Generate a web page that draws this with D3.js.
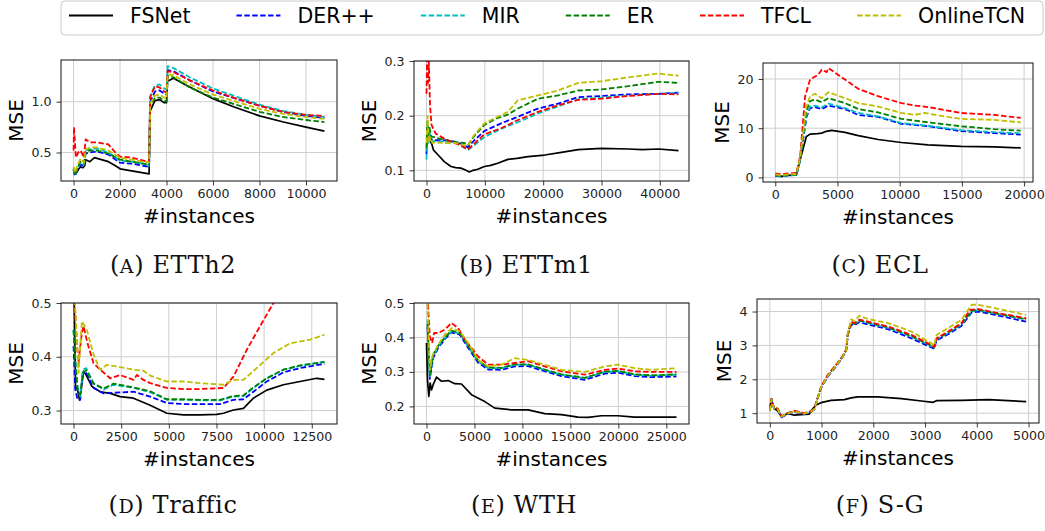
<!DOCTYPE html>
<html>
<head>
<meta charset="utf-8">
<script src="https://cdn.jsdelivr.net/npm/d3@7"></script>
<style>
  body { margin: 0; background: #fff; }
  svg { display: block; font-family: "DejaVu Sans", sans-serif; }
</style>
</head>
<body>
<svg id="chart" width="1045" height="531"></svg>
<script>
// methods, in legend / draw order
const methods = ["FSNet", "DER++", "MIR", "ER", "TFCL", "OnlineTCN"];
const colors = ["#000000", "#0000ff", "#00bfbf", "#008000", "#ff0000", "#bfbf00"];

// (A) ETTh2  -- [instances, MSE]
const etth2 = {
  "FSNet": [[0,0.33],[100,0.29],[200,0.33],[300,0.36],[400,0.35],[480,0.37],[520,0.43],[700,0.41],[900,0.45],[1200,0.43],[1500,0.41],[1800,0.37],[2000,0.34],[2500,0.32],[3000,0.30],[3250,0.29],[3280,0.90],[3500,1.01],[3700,1.02],[3900,0.99],[4000,0.99],[4040,1.20],[4300,1.23],[4870,1.16],[6000,1.03],[6880,0.95],[8000,0.86],[9030,0.80],[10000,0.75],[10793,0.71]],
  "DER++": [[0,0.33],[60,0.27],[150,0.32],[300,0.38],[450,0.37],[520,0.49],[700,0.50],[1000,0.51],[1500,0.48],[2000,0.40],[2500,0.39],[3000,0.37],[3250,0.36],[3300,1.00],[3500,1.10],[3700,1.11],[3900,1.08],[4000,1.07],[4050,1.31],[4300,1.30],[5000,1.21],[6000,1.10],[7000,1.03],[8000,0.96],[9000,0.90],[10000,0.86],[10793,0.84]],
  "MIR": [[0,0.35],[60,0.28],[150,0.33],[300,0.40],[450,0.38],[520,0.52],[700,0.53],[1000,0.54],[1500,0.50],[2000,0.42],[2500,0.41],[3000,0.39],[3250,0.37],[3300,1.05],[3500,1.16],[3700,1.17],[3900,1.13],[4000,1.12],[4050,1.35],[4300,1.33],[5000,1.24],[6000,1.13],[7000,1.05],[8000,0.97],[9000,0.91],[10000,0.87],[10793,0.85]],
  "ER": [[0,0.34],[60,0.28],[150,0.34],[300,0.41],[450,0.39],[520,0.51],[700,0.52],[1000,0.52],[1500,0.49],[2000,0.43],[2500,0.41],[3000,0.39],[3250,0.38],[3300,0.97],[3500,1.04],[3700,1.04],[3900,1.01],[4000,1.00],[4050,1.25],[4300,1.24],[5000,1.14],[6000,1.04],[7000,0.97],[8000,0.90],[9000,0.85],[10000,0.82],[10793,0.80]],
  "TFCL": [[0,0.52],[20,0.75],[60,0.60],[100,0.45],[200,0.50],[300,0.52],[450,0.45],[520,0.63],[700,0.60],[1000,0.60],[1500,0.58],[1800,0.50],[2000,0.46],[2500,0.45],[3000,0.42],[3250,0.41],[3300,1.05],[3500,1.15],[3700,1.14],[3900,1.10],[4000,1.09],[4050,1.30],[4300,1.29],[5000,1.21],[6000,1.11],[7000,1.03],[8000,0.96],[9000,0.90],[10000,0.87],[10793,0.86]],
  "OnlineTCN": [[0,0.36],[60,0.30],[150,0.36],[300,0.44],[450,0.40],[520,0.53],[700,0.55],[1000,0.55],[1500,0.52],[2000,0.45],[2500,0.43],[3000,0.41],[3250,0.40],[3300,0.98],[3500,1.06],[3700,1.07],[3900,1.04],[4000,1.03],[4050,1.27],[4300,1.26],[5000,1.17],[6000,1.07],[7000,1.00],[8000,0.93],[9000,0.88],[10000,0.85],[10793,0.83]]
};

// (B) ETTm1
const ettm1 = {
  "FSNet": [[600,0.155],[900,0.148],[1200,0.137],[2000,0.128],[3040,0.116],[4190,0.107],[5000,0.105],[5900,0.104],[6600,0.101],[7350,0.097],[8000,0.100],[8780,0.102],[9930,0.107],[11000,0.109],[12200,0.113],[13950,0.120],[15500,0.122],[17400,0.125],[20260,0.128],[23130,0.133],[26000,0.138],[30000,0.140],[34600,0.139],[37000,0.138],[39770,0.139],[43200,0.136]],
  "DER++": [[0,0.13],[150,0.18],[300,0.155],[500,0.165],[800,0.157],[1500,0.155],[3040,0.155],[5000,0.152],[6500,0.146],[7100,0.142],[8200,0.155],[9930,0.172],[12800,0.186],[15660,0.198],[19100,0.213],[22550,0.222],[26000,0.234],[30000,0.236],[34600,0.239],[39770,0.240],[43200,0.242]],
  "MIR": [[0,0.12],[150,0.19],[300,0.15],[500,0.17],[800,0.155],[1500,0.153],[3040,0.153],[5000,0.150],[6500,0.141],[7100,0.137],[8200,0.146],[9930,0.161],[12800,0.176],[15660,0.188],[19100,0.204],[22550,0.217],[26000,0.230],[30000,0.233],[34600,0.237],[39770,0.240],[43200,0.242]],
  "ER": [[0,0.14],[150,0.19],[300,0.16],[500,0.18],[800,0.162],[1500,0.160],[3040,0.156],[5000,0.152],[6500,0.150],[7100,0.146],[8200,0.163],[9930,0.183],[12000,0.195],[13950,0.202],[15660,0.213],[19100,0.231],[22550,0.237],[26000,0.246],[30000,0.248],[34600,0.254],[39770,0.262],[43200,0.260]],
  "TFCL": [[0,0.24],[100,0.31],[250,0.26],[400,0.30],[600,0.22],[860,0.183],[1200,0.175],[1600,0.167],[3040,0.158],[4500,0.151],[5900,0.146],[7060,0.138],[8200,0.149],[9930,0.166],[12800,0.177],[15660,0.192],[19100,0.207],[22550,0.219],[26000,0.229],[30000,0.231],[34600,0.236],[39770,0.240],[43200,0.239]],
  "OnlineTCN": [[0,0.15],[200,0.20],[400,0.15],[700,0.16],[1000,0.150],[1500,0.151],[3040,0.150],[5000,0.150],[6500,0.146],[7100,0.146],[8200,0.165],[9930,0.186],[12200,0.198],[13950,0.207],[15660,0.228],[19100,0.237],[22550,0.246],[26000,0.260],[30000,0.263],[34600,0.270],[39770,0.277],[43200,0.273]]
};

// (C) ECL
const ecl = {
  "FSNet": [[0,0.3],[500,0.2],[1000,0.4],[1700,0.5],[2000,3.6],[2500,8.3],[2800,8.8],[3400,8.9],[3730,9.0],[4000,9.3],[4530,9.56],[5600,9.15],[6670,8.5],[8270,7.7],[10130,7.1],[12270,6.6],[14930,6.3],[17600,6.2],[19728,6.0]],
  "DER++": [[0,0.4],[500,0.2],[1000,0.4],[1700,0.5],[2000,3.5],[2500,12.2],[2800,14.1],[3200,14.3],[3730,13.9],[4270,14.6],[5600,13.9],[6670,12.7],[8270,12.3],[10130,10.9],[12270,10.4],[14930,9.4],[17600,9.0],[19728,8.7]],
  "MIR": [[0,0.4],[500,0.2],[1000,0.4],[1700,0.5],[2000,3.6],[2500,12.5],[2800,14.4],[3200,14.6],[3730,14.2],[4270,15.0],[5600,14.1],[6670,13.1],[8270,12.4],[10130,11.05],[12270,10.5],[14930,9.6],[17600,9.2],[19728,9.0]],
  "ER": [[0,0.5],[500,0.3],[1000,0.5],[1700,0.6],[2000,3.8],[2500,13.5],[2800,15.5],[3200,15.8],[3730,15.3],[4270,16.1],[5600,15.1],[6670,13.9],[8270,13.2],[10130,11.9],[12270,11.2],[14930,10.4],[17600,9.8],[19728,9.5]],
  "TFCL": [[0,0.8],[500,0.6],[1000,0.8],[1700,0.9],[2000,4.3],[2400,16.5],[2800,19.9],[3470,20.9],[3730,21.9],[4130,21.4],[4270,22.2],[5600,19.9],[6670,18.0],[8270,16.5],[10130,15.1],[11200,14.6],[12270,14.3],[14930,13.1],[17600,12.7],[19728,12.1]],
  "OnlineTCN": [[0,0.6],[500,0.4],[1000,0.6],[1700,0.7],[2000,4.0],[2500,14.5],[2800,16.5],[3200,17.0],[3730,16.1],[4270,17.3],[5600,16.1],[6670,15.1],[8270,14.4],[10130,13.1],[11200,12.7],[12000,13.1],[13600,12.4],[14930,11.9],[17600,11.7],[19728,11.2]]
};

// (D) Traffic
const traffic = {
  "FSNet": [[0,0.55],[35,0.5],[105,0.345],[210,0.338],[315,0.32],[437,0.348],[524,0.373],[664,0.366],[961,0.345],[1398,0.335],[1923,0.332],[2447,0.326],[3146,0.323],[4020,0.31],[4894,0.295],[5768,0.292],[6642,0.292],[7516,0.293],[7866,0.295],[8390,0.301],[8915,0.304],[9439,0.323],[10138,0.338],[11012,0.348],[11886,0.354],[12760,0.36],[13166,0.358]],
  "DER++": [[0,0.42],[87,0.34],[210,0.32],[350,0.32],[490,0.37],[664,0.37],[1049,0.342],[1573,0.332],[3146,0.335],[4020,0.326],[4894,0.314],[5768,0.312],[6642,0.312],[7691,0.312],[8390,0.32],[8915,0.321],[9439,0.335],[10138,0.354],[11012,0.371],[11886,0.379],[13166,0.387]],
  "MIR": [[0,0.45],[87,0.4],[210,0.345],[350,0.326],[490,0.376],[664,0.379],[1049,0.351],[1573,0.339],[2097,0.348],[3146,0.342],[4020,0.334],[4894,0.32],[5768,0.32],[6642,0.319],[7691,0.319],[8390,0.326],[8915,0.327],[9439,0.342],[10138,0.36],[11012,0.376],[11886,0.383],[13166,0.391]],
  "ER": [[0,0.45],[87,0.39],[210,0.34],[350,0.33],[490,0.37],[664,0.375],[1049,0.35],[1573,0.341],[2097,0.35],[3146,0.343],[4020,0.336],[4894,0.321],[5768,0.321],[6642,0.32],[7691,0.32],[8390,0.327],[8915,0.328],[9439,0.343],[10138,0.36],[11012,0.376],[11886,0.384],[13166,0.39]],
  "TFCL": [[0,0.55],[35,0.52],[175,0.425],[262,0.388],[350,0.419],[437,0.444],[524,0.457],[734,0.425],[1049,0.388],[1398,0.376],[1923,0.36],[2447,0.366],[3146,0.357],[3321,0.366],[3671,0.357],[4020,0.351],[4894,0.342],[5768,0.34],[6642,0.34],[7866,0.342],[8390,0.363],[9090,0.413],[9789,0.457],[10488,0.5],[12000,0.6],[13166,0.67]],
  "OnlineTCN": [[0,0.55],[262,0.37],[437,0.466],[699,0.45],[1049,0.404],[1398,0.376],[1748,0.385],[2272,0.382],[3146,0.376],[3671,0.374],[4020,0.365],[4894,0.354],[5768,0.354],[6642,0.351],[7866,0.348],[8390,0.357],[8915,0.357],[9614,0.379],[10488,0.407],[11362,0.425],[12411,0.432],[13166,0.441]]
};

// (E) WTH
const wth = {
  "FSNet": [[0,0.384],[104,0.277],[243,0.229],[382,0.268],[521,0.248],[694,0.263],[1042,0.285],[1562,0.273],[2257,0.275],[2951,0.266],[3646,0.265],[4687,0.234],[6076,0.214],[7118,0.195],[8854,0.19],[10590,0.19],[12326,0.179],[14062,0.176],[15798,0.169],[16839,0.168],[18228,0.173],[19964,0.173],[21700,0.169],[26062,0.169]],
  "DER++": [[104,0.43],[347,0.28],[694,0.34],[1215,0.37],[1910,0.395],[2604,0.415],[3472,0.408],[4340,0.37],[5382,0.327],[6423,0.307],[7812,0.306],[9201,0.316],[10590,0.317],[12326,0.302],[14062,0.288],[16492,0.277],[18575,0.295],[19964,0.298],[21700,0.288],[23436,0.285],[26062,0.287]],
  "MIR": [[104,0.45],[347,0.287],[694,0.345],[1215,0.374],[1910,0.398],[2604,0.418],[3472,0.411],[4340,0.374],[5382,0.331],[6423,0.311],[7812,0.311],[9201,0.321],[10590,0.321],[12326,0.306],[14062,0.292],[16492,0.282],[18575,0.30],[19964,0.302],[21700,0.292],[23436,0.289],[26062,0.292]],
  "ER": [[104,0.44],[347,0.29],[694,0.35],[1215,0.376],[1910,0.40],[2604,0.42],[3472,0.413],[4340,0.376],[5382,0.333],[6423,0.313],[7812,0.312],[9201,0.322],[10590,0.322],[12326,0.307],[14062,0.293],[16492,0.283],[18575,0.301],[19964,0.303],[21700,0.293],[23436,0.29],[26062,0.293]],
  "TFCL": [[104,0.52],[347,0.403],[590,0.384],[799,0.413],[1215,0.413],[1910,0.423],[2604,0.442],[3298,0.427],[3993,0.394],[5382,0.345],[6423,0.321],[7812,0.321],[9201,0.326],[10590,0.331],[12326,0.316],[14062,0.302],[16492,0.292],[18575,0.306],[19964,0.31],[21700,0.302],[23436,0.30],[26062,0.30]],
  "OnlineTCN": [[104,0.5],[347,0.306],[590,0.345],[1215,0.379],[1910,0.408],[2604,0.427],[3472,0.418],[4340,0.384],[5382,0.335],[6423,0.316],[7812,0.321],[9201,0.34],[10590,0.335],[12326,0.321],[14062,0.306],[16492,0.30],[18575,0.316],[19964,0.321],[21700,0.311],[23436,0.306],[26062,0.311]]
};

// (F) S-G
const sg = {
  "FSNet": [[0,1.19],[32,1.39],[84,1.14],[149,1.07],[226,0.89],[343,0.99],[472,0.94],[602,0.96],[763,0.97],[808,1.09],[893,1.24],[990,1.31],[1184,1.38],[1442,1.40],[1572,1.45],[1701,1.48],[2089,1.48],[2542,1.43],[2930,1.36],[3156,1.32],[3221,1.37],[3706,1.38],[4224,1.40],[4954,1.34]],
  "DER++": [[0,1.06],[32,1.38],[84,1.12],[149,1.11],[226,0.88],[343,0.98],[472,1.04],[666,0.98],[796,1.04],[860,1.11],[990,1.74],[1119,2.08],[1248,2.32],[1378,2.58],[1475,2.83],[1507,3.30],[1572,3.61],[1636,3.60],[1733,3.69],[1895,3.62],[2283,3.48],[2736,3.21],[3124,2.94],[3176,2.90],[3221,3.15],[3447,3.33],[3706,3.58],[3900,3.97],[4030,4.00],[4353,3.90],[4954,3.70]],
  "MIR": [[0,1.08],[32,1.41],[84,1.13],[149,1.13],[226,0.90],[343,0.99],[472,1.06],[666,0.99],[796,1.05],[860,1.13],[990,1.76],[1119,2.11],[1248,2.35],[1378,2.60],[1475,2.85],[1507,3.33],[1572,3.66],[1636,3.63],[1733,3.73],[1895,3.66],[2283,3.52],[2736,3.26],[3124,2.98],[3176,2.93],[3221,3.18],[3447,3.37],[3706,3.62],[3900,4.01],[4030,4.04],[4353,3.94],[4954,3.76]],
  "ER": [[0,1.08],[32,1.42],[84,1.13],[149,1.13],[226,0.90],[343,1.00],[472,1.06],[666,1.00],[796,1.05],[860,1.13],[990,1.77],[1119,2.12],[1248,2.36],[1378,2.61],[1475,2.86],[1507,3.34],[1572,3.68],[1636,3.64],[1733,3.74],[1895,3.68],[2283,3.54],[2736,3.28],[3124,2.99],[3176,2.94],[3221,3.19],[3447,3.39],[3706,3.64],[3900,4.03],[4030,4.05],[4353,3.95],[4954,3.78]],
  "TFCL": [[0,1.09],[32,1.43],[84,1.14],[149,1.14],[226,0.91],[343,1.00],[472,1.07],[666,1.00],[796,1.06],[860,1.14],[990,1.78],[1119,2.13],[1248,2.37],[1378,2.62],[1475,2.87],[1507,3.36],[1572,3.70],[1636,3.66],[1733,3.76],[1895,3.70],[2283,3.56],[2736,3.31],[3124,3.01],[3176,2.96],[3221,3.21],[3447,3.41],[3706,3.66],[3868,4.05],[4030,4.07],[4353,3.97],[4954,3.80]],
  "OnlineTCN": [[0,1.07],[32,1.40],[84,1.13],[149,1.12],[226,0.90],[343,0.99],[472,1.05],[666,0.99],[796,1.05],[860,1.12],[990,1.76],[1119,2.10],[1248,2.34],[1378,2.60],[1475,2.85],[1507,3.38],[1572,3.77],[1636,3.72],[1733,3.88],[1895,3.78],[2283,3.66],[2736,3.41],[3124,3.06],[3176,3.00],[3221,3.31],[3447,3.51],[3706,3.76],[3900,4.20],[4030,4.20],[4353,4.10],[4954,3.90]]
};

// tick values per panel
const xTicksA = [0, 2000, 4000, 6000, 8000, 10000], yTicksA = [0.5, 1.0];
const xTicksB = [0, 10000, 20000, 30000, 40000], yTicksB = [0.1, 0.2, 0.3];
const xTicksC = [0, 5000, 10000, 15000, 20000], yTicksC = [0, 10, 20];
const xTicksD = [0, 2500, 5000, 7500, 10000, 12500], yTicksD = [0.3, 0.4, 0.5];
const xTicksE = [0, 5000, 10000, 15000, 20000, 25000], yTicksE = [0.2, 0.3, 0.4, 0.5];
const xTicksF = [0, 1000, 2000, 3000, 4000, 5000], yTicksF = [1, 2, 3, 4];

const panels = [
  { data: etth2, letter: "A", name: "ETTh2", box: [61, 60, 337, 181], xd: [-540, 11333], yd: [0.22, 1.41], xt: xTicksA, yt: yTicksA, yf: ".1f", cx: 173 },
  { data: ettm1, letter: "B", name: "ETTm1", box: [414, 61, 689, 181], xd: [-2143, 45000], yd: [0.0805, 0.3], xt: xTicksB, yt: yTicksB, yf: ".1f", cx: 526 },
  { data: ecl, letter: "C", name: "ECL", box: [763, 63, 1033, 182], xd: [-986, 20714], yd: [-0.93, 23.25], xt: xTicksC, yt: yTicksC, yf: "d", cx: 880 },
  { data: traffic, letter: "D", name: "Traffic", box: [61, 303, 337, 424], xd: [-658, 13824], yd: [0.275, 0.5], xt: xTicksD, yt: yTicksD, yf: ".1f", cx: 173 },
  { data: wth, letter: "E", name: "WTH", box: [414, 303, 689, 424], xd: [-1303, 27365], yd: [0.149, 0.5], xt: xTicksE, yt: yTicksE, yf: ".1f", cx: 524 },
  { data: sg, letter: "F", name: "S-G", box: [757, 299, 1039, 423], xd: [-248, 5202], yd: [0.71, 4.37], xt: xTicksF, yt: yTicksF, yf: "d", cx: 880 }
];

const svg = d3.select("#chart");
const dash = "5.5,2.4";

panels.forEach((p, i) => {
  const [x0, y0, x1, y1] = p.box;
  const x = d3.scaleLinear().domain(p.xd).range([x0, x1]);
  const y = d3.scaleLinear().domain(p.yd).range([y1, y0]);
  const g = svg.append("g");

  // grid
  g.selectAll(".gx").data(p.xt).enter().append("line")
    .attr("x1", d => x(d)).attr("x2", d => x(d)).attr("y1", y0).attr("y2", y1)
    .attr("stroke", "#cfcfcf").attr("stroke-width", 1);
  g.selectAll(".gy").data(p.yt).enter().append("line")
    .attr("x1", x0).attr("x2", x1).attr("y1", d => y(d)).attr("y2", d => y(d))
    .attr("stroke", "#cfcfcf").attr("stroke-width", 1);

  // lines
  const clipId = "clip" + i;
  svg.append("clipPath").attr("id", clipId).append("rect")
    .attr("x", x0).attr("y", y0).attr("width", x1 - x0).attr("height", y1 - y0);
  const line = d3.line().x(d => x(d[0])).y(d => y(d[1]));
  const lg = g.append("g").attr("clip-path", `url(#${clipId})`);
  methods.forEach((m, k) => {
    lg.append("path").datum(p.data[m])
      .attr("d", line)
      .attr("fill", "none")
      .attr("stroke", colors[k])
      .attr("stroke-width", k === 0 ? 1.7 : 1.8)
      .attr("stroke-dasharray", k === 0 ? null : dash)
      .attr("stroke-linejoin", "round");
  });

  // axes
  const xa = g.append("g").attr("transform", `translate(0,${y1})`)
    .call(d3.axisBottom(x).tickValues(p.xt).tickFormat(d3.format("d")).tickSize(4.5).tickPadding(4));
  const ya = g.append("g").attr("transform", `translate(${x0},0)`)
    .call(d3.axisLeft(y).tickValues(p.yt).tickFormat(d3.format(p.yf)).tickSize(4.5).tickPadding(5));
  [xa, ya].forEach(a => {
    a.select(".domain").remove();
    a.selectAll("text").attr("font-size", 12.6).attr("fill", "#222").attr("font-family", "DejaVu Sans");
    a.selectAll("line").attr("stroke", "#222").attr("stroke-width", 0.9);
  });

  g.append("rect").attr("x", x0).attr("y", y0).attr("width", x1 - x0).attr("height", y1 - y0)
    .attr("fill", "none").attr("stroke", "#111").attr("stroke-width", 1);

  // axis labels
  g.append("text").attr("x", (x0 + x1) / 2).attr("y", y1 + 42)
    .attr("text-anchor", "middle").attr("font-size", 20).text("#instances");
  // MSE sits a fixed gap left of the widest y tick label
  const tickLeft = d3.min(ya.selectAll("text").nodes(), n => n.getBBox().x) + x0;
  const lx = tickLeft - 8.5;
  g.append("text").attr("transform", `translate(${lx},${(y0 + y1) / 2}) rotate(-90)`)
    .attr("text-anchor", "middle").attr("font-size", 20).text("MSE");

  // caption
  const cy = i < 3 ? 273 : 513;
  const cap = g.append("text").attr("x", p.cx).attr("y", cy)
    .attr("text-anchor", "middle").attr("font-family", "DejaVu Serif").attr("font-size", 24)
    .attr("letter-spacing", 0.6).attr("fill", "#111");
  cap.append("tspan").text("(");
  cap.append("tspan").attr("font-size", 19).text(p.letter);
  cap.append("tspan").text(") " + p.name);
});

// legend
const leg = svg.append("g");
leg.append("rect").attr("x", 61).attr("y", 1).attr("width", 982).attr("height", 34).attr("rx", 4)
  .attr("fill", "#fff").attr("stroke", "#cccccc").attr("stroke-width", 1);
let lx = 69;
methods.forEach((m, k) => {
  leg.append("line").attr("x1", lx).attr("x2", lx + 44).attr("y1", 15.5).attr("y2", 15.5)
    .attr("stroke", colors[k]).attr("stroke-width", 1.8)
    .attr("stroke-dasharray", k === 0 ? null : dash);
  const t = leg.append("text").attr("x", lx + 61).attr("y", 23.3).attr("font-size", 20.5).text(m);
  lx += 61 + t.node().getComputedTextLength() + 46;
});
</script>
</body>
</html>
